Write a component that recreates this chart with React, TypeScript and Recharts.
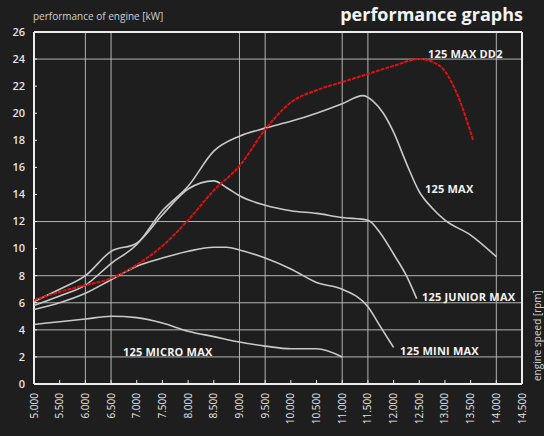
import React from 'react';
import { LineChart, Line, XAxis, YAxis, ReferenceLine } from 'recharts';

// axis ticks and the few grid lines the original draws
const rpmTicks = [5000, 5500, 6000, 6500, 7000, 7500, 8000, 8500, 9000, 9500, 10000, 10500, 11000, 11500, 12000, 12500, 13000, 13500, 14000, 14500];
const kwTicks = [0, 2, 4, 6, 8, 10, 12, 14, 16, 18, 20, 22, 24, 26];
const gridRpm = [6000, 6500, 9000, 9500, 11000, 11500, 14000];
const gridKw = [2, 4, 6, 8, 12, 24];

// 125 MAX DD2 (red)
const dd2Rpm = [5000, 5500, 6000, 6500, 7000, 7500, 8000, 8500, 9000, 9500, 10000, 10500, 11000, 11500, 12000, 12500, 12750, 13000, 13250, 13500, 13550];
const dd2Kw = [6.2, 6.8, 7.3, 7.8, 8.8, 10.2, 12.1, 14.3, 16.1, 18.8, 20.8, 21.7, 22.3, 22.9, 23.5, 24.0, 23.8, 23.1, 21.3, 18.6, 18.0];

// 125 MAX
const maxRpm = [5000, 5500, 6000, 6500, 7000, 7500, 8000, 8500, 9000, 9500, 10000, 10500, 11000, 11400, 11600, 11800, 12000, 12250, 12500, 12750, 13000, 13500, 14000];
const maxKw = [5.8, 6.5, 7.3, 8.9, 10.3, 12.8, 14.6, 17.2, 18.3, 18.9, 19.4, 20.0, 20.7, 21.3, 20.9, 20.0, 18.6, 16.3, 14.2, 13.0, 12.1, 11.0, 9.4];

// 125 JUNIOR MAX
const juniorRpm = [5000, 5500, 6000, 6500, 7000, 7500, 8000, 8500, 8750, 9000, 9500, 10000, 10500, 11000, 11500, 11750, 12000, 12250, 12450];
const juniorKw = [6.1, 7.0, 8.0, 9.8, 10.4, 12.5, 14.4, 15.0, 14.5, 13.9, 13.2, 12.8, 12.6, 12.3, 12.1, 11.1, 9.6, 8.0, 6.3];

// 125 MINI MAX
const miniRpm = [5000, 5500, 6000, 6500, 7000, 7500, 8000, 8500, 8750, 9000, 9500, 10000, 10500, 11000, 11500, 11750, 12000];
const miniKw = [5.5, 6.0, 6.7, 7.7, 8.7, 9.3, 9.8, 10.1, 10.1, 9.9, 9.3, 8.5, 7.5, 7.0, 5.7, 4.2, 2.7];

// 125 MICRO MAX
const microRpm = [5000, 5500, 6000, 6500, 7000, 7500, 8000, 8500, 9000, 9500, 10000, 10500, 11000];
const microKw = [4.4, 4.6, 4.8, 5.0, 4.9, 4.5, 3.9, 3.5, 3.1, 2.8, 2.6, 2.6, 2.0];

const toPoints = (rpm: number[], kw: number[]) => rpm.map((r, i) => ({ rpm: r, kw: kw[i] }));

const fmtRpm = (v: number) => `${Math.floor(v / 1000)}.${String(v % 1000).padStart(3, '0')}`;

const FONT = '"Open Sans", "DejaVu Sans", sans-serif';
const BG = '#1e1e1e';
const GRID = '#b4b4b4';
const BORDER = '#ececec';
const CURVE = '#c9c9c9';
const RED = '#dc1212';

const XTick = (props: any) => {
  const { x, y, payload } = props;
  return (
    <g>
      <line x1={x} x2={x} y1={y} y2={y - 4} stroke={BORDER} strokeWidth={1} />
      <text
        transform={`translate(${x},${y + 9}) rotate(-90)`}
        textAnchor="end"
        dy="0.35em"
        fill="#e4e4e4"
        fontSize={10}
        fontFamily={FONT}
      >
        {fmtRpm(payload.value)}
      </text>
    </g>
  );
};

const YTick = (props: any) => {
  const { x, y, payload } = props;
  return (
    <g>
      <line x1={x} x2={x + 3} y1={y} y2={y} stroke={BORDER} strokeWidth={1} />
      <text x={x - 9} y={y} dy="0.35em" textAnchor="end" fill="#e4e4e4" fontSize={11} fontWeight={600} fontFamily={FONT}>
        {payload.value}
      </text>
    </g>
  );
};

const labelStyle = { fill: '#f2f2f2', fontSize: 11, fontWeight: 700, fontFamily: FONT, letterSpacing: 0.2 } as const;

export default function App() {
  const curves = [
    { key: 'micro', data: toPoints(microRpm, microKw) },
    { key: 'mini', data: toPoints(miniRpm, miniKw) },
    { key: 'junior', data: toPoints(juniorRpm, juniorKw) },
    { key: 'max', data: toPoints(maxRpm, maxKw) },
  ];

  return (
    <div style={{ position: 'absolute', left: 0, top: 0, width: 544, height: 436, background: BG }}>
      <LineChart width={544} height={436} margin={{ top: 32, right: 22, left: 0, bottom: 0 }}>
        <XAxis
          type="number"
          dataKey="rpm"
          domain={[5000, 14500]}
          ticks={rpmTicks}
          interval={0}
          height={52}
          tickSize={0}
          tickMargin={0}
          axisLine={false}
          tickLine={false}
          tick={<XTick />}
          allowDataOverflow
        />
        <YAxis
          type="number"
          domain={[0, 26]}
          ticks={kwTicks}
          interval={0}
          width={34}
          tickSize={0}
          tickMargin={0}
          axisLine={false}
          tickLine={false}
          tick={<YTick />}
          allowDataOverflow
        />
        {gridKw.map((v) => (
          <ReferenceLine key={`h${v}`} y={v} stroke={GRID} strokeWidth={1} />
        ))}
        {gridRpm.map((v) => (
          <ReferenceLine key={`v${v}`} x={v} stroke={GRID} strokeWidth={1} />
        ))}
        <ReferenceLine y={0} stroke={BORDER} strokeWidth={2} />
        <ReferenceLine y={26} stroke={BORDER} strokeWidth={2} />
        <ReferenceLine x={5000} stroke={BORDER} strokeWidth={2} />
        <ReferenceLine x={14500} stroke={BORDER} strokeWidth={2} />
        {curves.map((c) => (
          <Line
            key={c.key}
            data={c.data}
            dataKey="kw"
            type="monotone"
            stroke={CURVE}
            strokeWidth={1.6}
            dot={false}
            isAnimationActive={false}
          />
        ))}
        <Line
          data={toPoints(dd2Rpm, dd2Kw)}
          dataKey="kw"
          type="monotone"
          stroke={RED}
          strokeWidth={2}
          strokeDasharray="4 1"
          dot={false}
          isAnimationActive={false}
        />
      </LineChart>
      <svg width={544} height={436} style={{ position: 'absolute', left: 0, top: 0, pointerEvents: 'none' }}>
        <text x={33} y={20} fill="#d0d0d0" fontSize={10} fontFamily={FONT}>
          performance of engine [kW]
        </text>
        <text x={523} y={21} textAnchor="end" fill="#f4f4f4" fontSize={18} fontWeight={700} fontFamily={FONT}>
          performance graphs
        </text>
        <text transform="translate(541,381) rotate(-90)" fill="#d0d0d0" fontSize={10} fontFamily={FONT}>
          engine speed [rpm]
        </text>
        <text x={428} y={58} {...labelStyle}>125 MAX DD2</text>
        <text x={425} y={193} {...labelStyle}>125 MAX</text>
        <text x={422} y={301} {...labelStyle}>125 JUNIOR MAX</text>
        <text x={400} y={355} {...labelStyle}>125 MINI MAX</text>
        <text x={123} y={356} {...labelStyle}>125 MICRO MAX</text>
      </svg>
    </div>
  );
}
